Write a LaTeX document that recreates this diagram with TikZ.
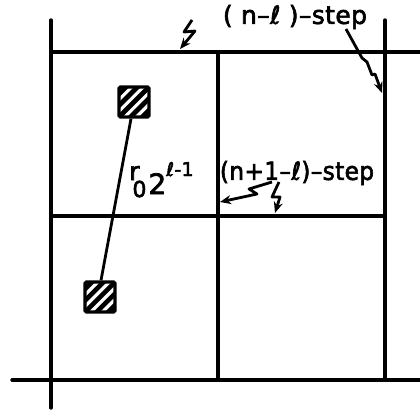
\documentclass[tikz,border=0pt]{standalone}
\usepackage{fontspec}
\newfontfamily\hand{DejaVu Sans}[FakeBold=2.5, LetterSpace=1.5]
\usetikzlibrary{arrows.meta}
\tikzset{
  gridline/.style={line width=3.4pt, line cap=round},
  bolt/.style={line width=2.8pt, line join=round, -{Stealth[length=11pt,width=9pt]}},
  lbl/.style={inner sep=0pt, font=\fontsize{25}{25}\hand},
  hatchbox/.style={draw, line width=3.4pt, rounded corners=1.5pt, minimum size=30pt, inner sep=0pt,
    path picture={\foreach \k in {-3,...,3}{\draw[line width=4.6pt, shift={(path picture bounding box.center)}] (\k*11.5-20,20) -- ++(40,-40);}}}
}
\begin{document}
\begin{tikzpicture}[x=1pt,y=-1pt]
\useasboundingbox (0,0) rectangle (420,412);
% grid
\draw[gridline] (51,20) -- (51,408);
\draw[gridline] (385,20) -- (385,380);
\draw[gridline] (218,52) -- (218,380);
\draw[gridline] (51,52) -- (420,52);
\draw[gridline] (51,216) -- (385,216);
\draw[gridline] (12,380) -- (420,380);
% squares
\node[hatchbox] (sqa) at (134,102) {};
\node[hatchbox] (sqb) at (100,297) {};
\draw[line width=2.8pt] ([xshift=-3pt]sqa.south) -- ([xshift=1pt]sqb.north);
% labels
\node[lbl] (ta) at (295,17) {( n–ℓ )–step};
\node[lbl] (tb) at (297,173) {\scalebox{0.93}[1]{(n+1–ℓ)–step}};
\node[lbl, anchor=base west] (dist) at (129,197) {\raisebox{17pt}{r}\kern-7pt{\fontsize{22}{22}\hand 0}\kern2pt\raisebox{3pt}{\fontsize{28}{28}\hand 2}\raisebox{21pt}{\fontsize{19}{19}\hand ℓ-1}};
% bolts
\coordinate (a1s) at (192,20);
\coordinate (a1e) at (180,49);
\coordinate (a2s) at (346,29);
\coordinate (a2e) at (382,93);
\coordinate (a3s) at (272,182);
\coordinate (a3e) at (220,202);
\coordinate (a4s) at (279,182);
\coordinate (a4e) at (275,213);
\draw[bolt] (a1s) -- (184,32) -- (195,31) -- (a1e);
\draw[bolt] (a2s) -- (362,58) -- (367,62) -- (372,75) -- (375,74) -- (a2e);
\draw[bolt] (a3s) -- (249,189) -- (257,194) -- (a3e);
\draw[bolt] (a4s) -- (272,197) -- (280,197) -- (a4e);
\end{tikzpicture}
\end{document}
